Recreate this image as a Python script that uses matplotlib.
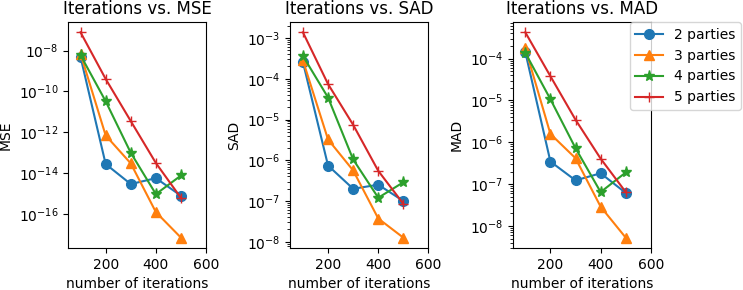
import numpy as np
import matplotlib
matplotlib.use("Agg")
import matplotlib.pyplot as plt

iters = [100, 200, 300, 400, 500]
labels = ["2 parties", "3 parties", "4 parties", "5 parties"]
markers = ["o", "^", "*", "+"]

# log10 values
mse_log = [
    [-8.32, -13.55, -14.53, -14.24, -15.10],
    [-8.16, -12.15, -13.52, -15.90, -17.15],
    [-8.23, -10.48, -13.00, -15.02, -14.11],
    [-7.11, -9.39, -11.45, -13.50, -15.21],
]
sad_log = [
    [-3.59, -6.13, -6.70, -6.60, -7.00],
    [-3.55, -5.49, -6.25, -7.43, -7.90],
    [-3.44, -4.46, -5.98, -6.92, -6.54],
    [-2.86, -4.13, -5.13, -6.26, -7.07],
]
mad_log = [
    [-3.84, -6.46, -6.91, -6.74, -7.21],
    [-3.75, -5.80, -6.38, -7.54, -8.28],
    [-3.86, -4.97, -6.14, -7.19, -6.72],
    [-3.37, -4.42, -5.46, -6.39, -7.19],
]

fig, axes = plt.subplots(1, 3, figsize=(7.43, 2.9), dpi=100)
plt.subplots_adjust(left=0.0915, right=0.876, bottom=0.145, top=0.924, wspace=0.61)

msizes = {"o": 7, "^": 7, "*": 8, "+": 7}
for ax, data, name in zip(axes, [mse_log, sad_log, mad_log], ["MSE", "SAD", "MAD"]):
    for vals, lab, m in zip(data, labels, markers):
        ax.plot(iters, 10.0 ** np.array(vals), marker=m, markersize=msizes[m], label=lab)
    ax.set_yscale("log")
    ax.set_xlim(50, 600)
    ax.set_xticks([200, 400, 600])
    ax.set_xlabel("number of iterations")
    ax.set_ylabel(name)
    ax.set_title("Iterations vs. " + name)

axes[2].legend(loc="upper left", bbox_to_anchor=(0.848, 1.0), borderaxespad=0)

plt.savefig("out.png")
